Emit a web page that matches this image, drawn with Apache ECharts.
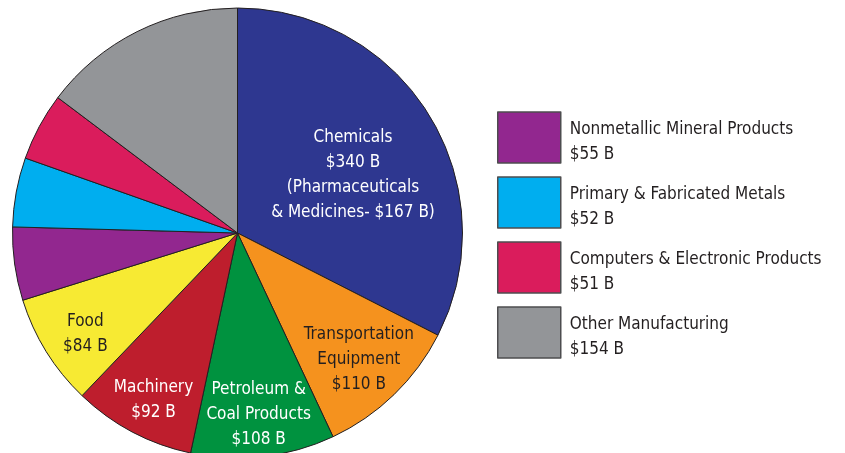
<!DOCTYPE html>
<html>
<head>
<meta charset="utf-8">
<script src="https://cdn.jsdelivr.net/npm/echarts@6/dist/echarts.min.js"></script>
<style>
  html, body { margin: 0; padding: 0; background: #fff; }
  #chart { width: 845px; height: 453px; }
</style>
</head>
<body>
<div id="chart"></div>
<script>
// 数据
var categories = ["Chemicals", "Transportation Equipment", "Petroleum & Coal Products", "Machinery", "Food",
    "Nonmetallic Mineral Products", "Primary & Fabricated Metals", "Computers & Electronic Products", "Other Manufacturing"];
var values = [340, 110, 108, 92, 84, 55, 52, 51, 154];
var colors = ["#2e3790", "#f5921e", "#00923f", "#be1e2d", "#f7ea33", "#92278f", "#00aeef", "#da1c5c", "#939598"];
var sliceLabels = [
    "Chemicals\n$340 B\n(Pharmaceuticals\n& Medicines- $167 B)",
    "Transportation\nEquipment\n$110 B",
    "Petroleum &\nCoal Products\n$108 B",
    "Machinery\n$92 B",
    "Food\n$84 B",
    "", "", "", ""
];
var legendItems = ["Nonmetallic Mineral Products", "Primary & Fabricated Metals", "Computers & Electronic Products", "Other Manufacturing"];

(function () {
    var myChart = echarts.init(document.getElementById("chart"));
    var font = '"Liberation Sans Narrow", "DejaVu Sans Condensed", "Roboto", sans-serif';
    // 标签偏移
    var labelShift = [[17, 2], [41, 44], [8, 67], [-30, 65], [-54, 40]];

    var data = categories.map(function (name, i) {
        var isDark = (i === 1 || i === 4);
        return {
            name: name,
            value: values[i],
            itemStyle: { color: colors[i] },
            label: {
                show: sliceLabels[i] !== "",
                color: isDark ? "#231f20" : "#ffffff"
            }
        };
    });

    var option = {
        animation: false,
        legend: {
            orient: "vertical",
            left: 497,
            top: 107.5,
            padding: 0,
            itemWidth: 63,
            itemHeight: 51,
            itemGap: 5,
            icon: "rect",
            data: legendItems,
            itemStyle: { borderColor: "#4d4d4f", borderWidth: 1.5 },
            formatter: function (name) {
                var i = categories.indexOf(name);
                // 顶部空行让文字下移
                return "{g|}\n" + name + "\n$" + values[i] + " B";
            },
            textStyle: {
                fontFamily: font,
                fontSize: 17,
                lineHeight: 25,
                color: "#231f20",
                padding: [0, 0, 0, 4],
                rich: {
                    g: { lineHeight: 10, fontSize: 1 }
                }
            }
        },
        series: [
            {
                type: "pie",
                center: [237.5, 233],
                radius: [0, 225],
                startAngle: 90,
                clockwise: true,
                avoidLabelOverlap: false,
                itemStyle: { borderColor: "#231f20", borderWidth: 1 },
                label: {
                    position: "inside",
                    fontFamily: font,
                    fontSize: 17,
                    lineHeight: 25,
                    align: "center",
                    formatter: function (p) { return sliceLabels[p.dataIndex]; }
                },
                labelLine: { show: false },
                labelLayout: function (p) {
                    var s = labelShift[p.dataIndex] || [0, 0];
                    return { dx: s[0], dy: s[1] };
                },
                emphasis: { disabled: true },
                data: data
            }
        ]
    };
    myChart.setOption(option);
})();
</script>
</body>
</html>
